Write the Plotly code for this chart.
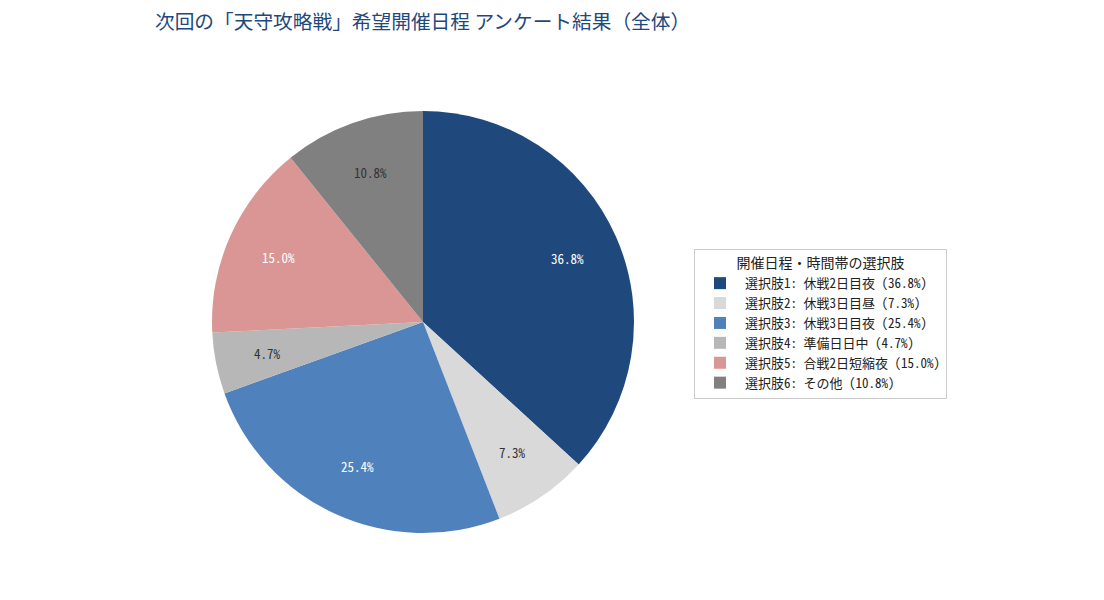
import math
import plotly.graph_objects as go

labels = ["選択肢1: 休戦2日目夜 (36.8%)", "選択肢2: 休戦3日目昼 (7.3%)", "選択肢3: 休戦3日目夜 (25.4%)",
          "選択肢4: 準備日日中 (4.7%)", "選択肢5: 合戦2日短縮夜 (15.0%)", "選択肢6: その他 (10.8%)"]
values = [36.8, 7.3, 25.4, 4.7, 15.0, 10.8]
colors = ["#1F497D", "#D9D9D9", "#4F81BD", "#B7B7B7", "#D99694", "#808080"]
text_colors = ["#FFFFFF", "#333333", "#FFFFFF", "#333333", "#FFFFFF", "#333333"]

FONT = "Noto Sans Mono CJK JP, Noto Sans CJK JP, sans-serif"
W, H = 1104, 600
cx, cy, R = 423, 322, 211
fig = go.Figure(go.Pie(
    labels=labels, values=values, sort=False, direction="clockwise", rotation=0,
    marker=dict(colors=colors, line=dict(width=0)),
    textinfo="none", hoverinfo="label",
    domain=dict(x=[(cx - R) / W, (cx + R) / W], y=[1 - (cy + R) / H, 1 - (cy - R) / H]),
))

total = sum(values)
cum = 0.0
for v, tc in zip(values, text_colors):
    mid = (cum + v / 2) / total * 2 * math.pi
    cum += v
    px = cx + 0.75 * R * math.sin(mid)
    py = cy - 0.75 * R * math.cos(mid)
    fig.add_annotation(x=px / W, y=1 - py / H, xref="paper", yref="paper",
                       xanchor="center", yanchor="middle",
                       text=f"{v / total * 100:.1f}%", showarrow=False,
                       font=dict(size=13, color=tc, family=FONT))

fig.update_layout(
    width=W, height=H,
    margin=dict(l=0, r=0, t=0, b=0),
    paper_bgcolor="white", plot_bgcolor="white",
    font=dict(family=FONT, size=13, color="#222222"),
    title=dict(text="次回の「天守攻略戦」希望開催日程 アンケート結果（全体）",
               x=155 / W, xanchor="left", y=1 - 22 / H, yanchor="middle",
               font=dict(size=19.7, color="#1F497D", family="Noto Sans CJK JP")),
    legend=dict(title=dict(text="開催日程・時間帯の選択肢", side="top center", font=dict(size=14, color="#222222")),
                x=694 / W, xanchor="left", y=1 - 249 / H, yanchor="top",
                bordercolor="#CCCCCC", borderwidth=1, bgcolor="white",
                itemwidth=40, tracegroupgap=0,
                font=dict(size=13, color="#222222")),
)
fig.write_html("out.html")
